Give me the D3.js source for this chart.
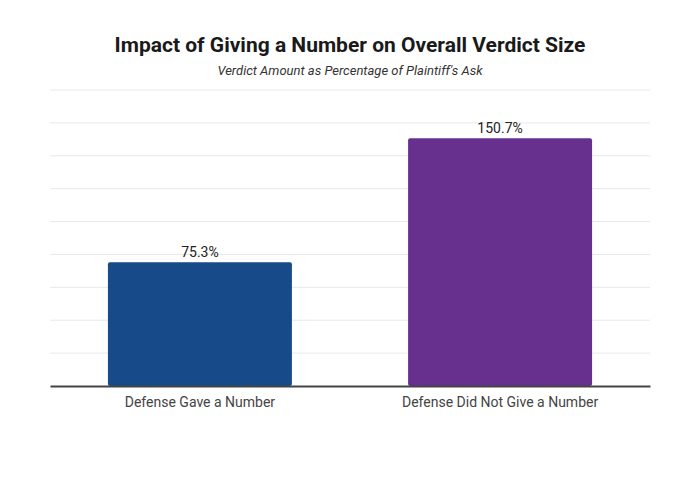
<!DOCTYPE html>
<html>
<head>
<meta charset="utf-8">
<script src="https://cdn.jsdelivr.net/npm/d3@7"></script>
<style>
  body { margin: 0; background: #fff; }
  text { font-family: Roboto, "Noto Sans", sans-serif; }
</style>
</head>
<body>
<svg width="700" height="498"></svg>
<script>
const categories = ['Defense Gave a Number', 'Defense Did Not Give a Number'];
const values = [75.3, 150.7];
const colors = ['#174a89', '#67308f'];
const gridTicks = [0, 20, 40, 60, 80, 100, 120, 140, 160, 180];

const svg = d3.select('svg');
const width = +svg.attr('width');

const margin = {top: 90, left: 50, right: 50, bottom: 112};
const plotBottom = 498 - margin.bottom;

const data = categories.map((c, i) => ({name: c, value: values[i], color: colors[i]}));

const xscale = d3.scaleBand()
  .domain(categories)
  .range([margin.left, width - margin.right])
  .paddingInner(0.387)
  .paddingOuter(0.193);

const yscale = d3.scaleLinear()
  .domain([0, 180])
  .range([plotBottom, margin.top]);

// gridlines
svg.append('g')
  .selectAll('line')
  .data(gridTicks.slice(1))
  .enter()
  .append('line')
  .attr('x1', margin.left)
  .attr('x2', width - margin.right)
  .attr('y1', d => yscale(d))
  .attr('y2', d => yscale(d))
  .attr('stroke', '#e8e8e8')
  .attr('stroke-width', 1);

// bars
svg.append('g')
  .selectAll('rect')
  .data(data)
  .enter()
  .append('rect')
  .attr('x', d => xscale(d.name))
  .attr('y', d => yscale(d.value))
  .attr('width', xscale.bandwidth())
  .attr('height', d => plotBottom - yscale(d.value))
  .attr('rx', 2)
  .attr('fill', d => d.color);

// value labels
svg.append('g')
  .selectAll('text')
  .data(data)
  .enter()
  .append('text')
  .attr('x', d => xscale(d.name) + xscale.bandwidth() / 2)
  .attr('y', d => yscale(d.value) - 5)
  .attr('text-anchor', 'middle')
  .attr('font-size', 14)
  .attr('fill', '#222')
  .text(d => d.value.toFixed(1) + '%');

// x axis
const xAxis = svg.append('g')
  .attr('transform', `translate(0,${plotBottom})`)
  .call(d3.axisBottom(xscale).tickSize(0).tickPadding(11));
xAxis.select('.domain')
  .attr('stroke', '#444')
  .attr('stroke-width', 2);
xAxis.selectAll('text')
  .attr('font-size', 14)
  .attr('font-family', 'Roboto, sans-serif')
  .attr('fill', '#444');

// titles
svg.append('text')
  .attr('x', width / 2)
  .attr('y', 52)
  .attr('text-anchor', 'middle')
  .attr('font-size', 21)
  .attr('font-weight', 'bold')
  .attr('fill', '#1a1a1a')
  .text('Impact of Giving a Number on Overall Verdict Size');

svg.append('text')
  .attr('x', width / 2)
  .attr('y', 75)
  .attr('text-anchor', 'middle')
  .attr('font-size', 13)
  .attr('font-style', 'italic')
  .attr('fill', '#333')
  .text("Verdict Amount as Percentage of Plaintiff's Ask");
</script>
</body>
</html>
